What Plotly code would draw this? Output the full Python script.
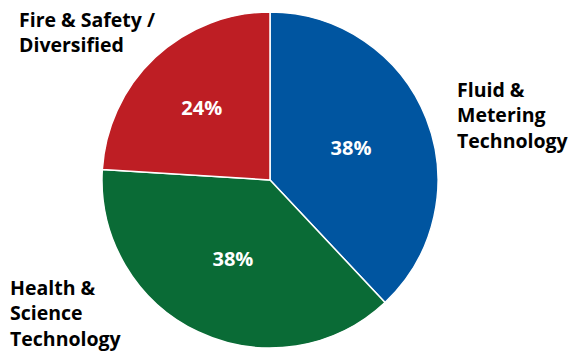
import plotly.graph_objects as go

categories = ["Fluid &<br>Metering<br>Technology", "Health &<br>Science<br>Technology", "Fire & Safety /<br>Diversified"]
values = [38, 38, 24]
colors = ["#0055A0", "#0A6B36", "#BE1E24"]

W, H = 579, 354
cx, cy, r = 270, 180, 168

fig = go.Figure(go.Pie(
    labels=categories,
    values=values,
    sort=False,
    direction="clockwise",
    rotation=0,
    marker=dict(colors=colors, line=dict(color="white", width=1.5)),
    textinfo="percent",
    texttemplate="%{percent:.0%}",
    textposition="inside",
    insidetextorientation="horizontal",
    textfont=dict(family="Open Sans", size=20, color="white", weight="bold"),
    domain=dict(x=[(cx - r) / W, (cx + r) / W], y=[(H - cy - r) / H, (H - cy + r) / H]),
    showlegend=False,
    hoverinfo="label+percent",
))

label_pos = [(455, 74), (8, 272), (17, 4)]
for lab, (x, y) in zip(categories, label_pos):
    fig.add_annotation(
        x=x / W, y=1 - y / H, xref="paper", yref="paper",
        xanchor="left", yanchor="top", align="left", showarrow=False,
        text="<b>" + lab + "</b>",
        font=dict(family="Open Sans", size=19.5, color="black"),
    )

fig.update_layout(
    width=W, height=H,
    margin=dict(l=0, r=0, t=0, b=0),
    paper_bgcolor="white", plot_bgcolor="white",
)
fig.write_html("out.html", config={"displayModeBar": False},
               post_script="document.body.style.margin='0px';")
